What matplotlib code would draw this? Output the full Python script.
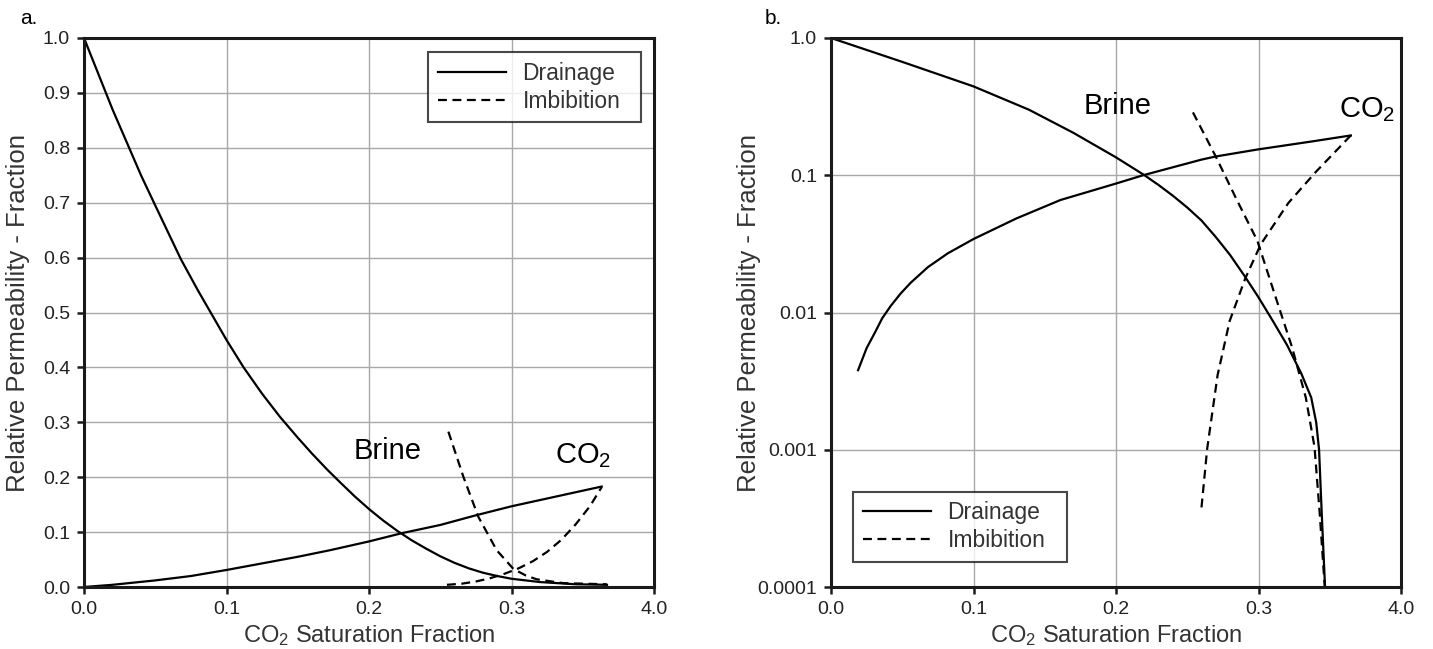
import matplotlib
matplotlib.use("Agg")
import matplotlib.pyplot as plt
from matplotlib.ticker import FixedLocator, NullLocator

plt.rcParams['font.family'] = ['Liberation Sans', 'DejaVu Sans']
plt.rcParams['mathtext.fontset'] = 'custom'
plt.rcParams['mathtext.rm'] = 'Liberation Sans'
plt.rcParams['mathtext.it'] = 'Liberation Sans'
plt.rcParams['mathtext.bf'] = 'Liberation Sans'
TICK_FS = 14
plt.rcParams['xtick.labelsize'] = TICK_FS
plt.rcParams['ytick.labelsize'] = TICK_FS

# ---------------- data: panel a (linear) ----------------
a_brine_dr_s = [0.0, 0.01, 0.02, 0.03, 0.04, 0.05, 0.068, 0.08, 0.1, 0.112, 0.125, 0.1375,
                0.15, 0.16, 0.171, 0.18, 0.19, 0.2, 0.21, 0.22, 0.23, 0.24, 0.25, 0.26, 0.27,
                0.28, 0.29, 0.3, 0.32, 0.345, 0.367]
a_brine_dr_kr = [1.0, 0.935, 0.87, 0.81, 0.75, 0.695, 0.597, 0.54, 0.45, 0.40, 0.352, 0.31,
                 0.272, 0.243, 0.213, 0.19, 0.165, 0.142, 0.121, 0.102, 0.085, 0.07, 0.056,
                 0.044, 0.034, 0.026, 0.02, 0.015, 0.009, 0.005, 0.004]
a_co2_dr_s = [0.0, 0.02, 0.05, 0.075, 0.1, 0.15, 0.1726, 0.2, 0.223, 0.25, 0.2756, 0.3, 0.3633]
a_co2_dr_kr = [0.0, 0.004, 0.012, 0.02, 0.031, 0.055, 0.067, 0.083, 0.098, 0.113, 0.131, 0.147, 0.183]
a_co2_im_s = [0.2547, 0.265, 0.275, 0.285, 0.295, 0.305, 0.315, 0.325, 0.335, 0.345, 0.355, 0.3633]
a_co2_im_kr = [0.004, 0.006, 0.010, 0.016, 0.024, 0.034, 0.047, 0.064, 0.086, 0.114, 0.147, 0.182]
a_brine_im_s = [0.2557, 0.2662, 0.2767, 0.2896, 0.3013, 0.31, 0.3177, 0.3364, 0.3668]
a_brine_im_kr = [0.283, 0.201, 0.128, 0.067, 0.033, 0.021, 0.014, 0.007, 0.005]

# ---------------- data: panel b (log) ----------------
b_brine_dr_s = [0.0, 0.05, 0.1, 0.139, 0.17, 0.2, 0.22, 0.23, 0.24, 0.25, 0.26, 0.27, 0.28,
                0.29, 0.30, 0.31, 0.32, 0.33, 0.337, 0.3405, 0.3425, 0.3445, 0.3467]
b_brine_dr_kr = [1.0, 0.67, 0.444, 0.30, 0.204, 0.135, 0.10, 0.0847, 0.0708, 0.0582, 0.0468,
                 0.0355, 0.0263, 0.0186, 0.0129, 0.0087, 0.0058, 0.0036, 0.0024, 0.00158,
                 0.001, 0.00032, 0.0001]
b_co2_dr_s = [0.019, 0.025, 0.031, 0.036, 0.042, 0.049, 0.056, 0.068, 0.082, 0.1, 0.13, 0.161,
              0.2, 0.219, 0.26, 0.27, 0.2992, 0.337, 0.3648]
b_co2_dr_kr = [0.0038, 0.0055, 0.0072, 0.0091, 0.0112, 0.0138, 0.0165, 0.0214, 0.027, 0.0343,
               0.0484, 0.066, 0.087, 0.1, 0.13, 0.137, 0.154, 0.176, 0.195]
b_co2_im_s = [0.260, 0.264, 0.2713, 0.2798, 0.2907, 0.3016, 0.321, 0.3405, 0.3648]
b_co2_im_kr = [0.00038, 0.00102, 0.0035, 0.0087, 0.0177, 0.0314, 0.0629, 0.1065, 0.195]
b_brine_im_s = [0.254, 0.270, 0.2846, 0.2992, 0.3126, 0.3235, 0.3332, 0.3393, 0.3429, 0.3465]
b_brine_im_kr = [0.287, 0.137, 0.0667, 0.0333, 0.0124, 0.0056, 0.0024, 0.00105, 0.00035, 0.0001]

x_ticks = [0.0, 0.1, 0.2, 0.3, 0.4]
x_ticklabels = ["0.0", "0.1", "0.2", "0.3", "4.0"]
a_y_ticks = [0.0, 0.1, 0.2, 0.3, 0.4, 0.5, 0.6, 0.7, 0.8, 0.9, 1.0]
a_y_ticklabels = ["0.0", "0.1", "0.2", "0.3", "0.4", "0.5", "0.6", "0.7", "0.8", "0.9", "1.0"]
b_y_ticks = [0.0001, 0.001, 0.01, 0.1, 1.0]
b_y_ticklabels = ["0.0001", "0.001", "0.01", "0.1", "1.0"]

legend_labels = ["Drainage", "Imbibition"]
xlabel = r"CO$_2$ Saturation Fraction"
ylabel = "Relative Permeability - Fraction"

W, H = 1433, 649
fig = plt.figure(figsize=(W / 100, H / 100), dpi=100)

TXT = '#222222'
LW = 1.6
DASH = (4, 2.5)
XLAB_FS = 17
YLAB_FS = 18.5
LEG_FS = 16.5
ANN_FS = 21


def style(ax, ylab_x):
    for sp in ax.spines.values():
        sp.set_linewidth(2.2)
        sp.set_color('#1a1a1a')
    ax.grid(True, color='#a8a8a8', linewidth=1.0)
    ax.set_axisbelow(True)
    ax.xaxis.set_major_locator(FixedLocator(x_ticks))
    ax.set_xticklabels(x_ticklabels)
    ax.set_xlim(0, 0.4)
    ax.tick_params(direction='out', length=5, width=1.8, labelsize=TICK_FS,
                   labelcolor=TXT, pad=5, color='#1a1a1a')
    ax.set_xlabel(xlabel, fontsize=XLAB_FS, color='#333333')
    ax.set_ylabel(ylabel, fontsize=YLAB_FS, color='#333333')
    ax.xaxis.set_label_coords(0.5, -0.066)
    ax.yaxis.set_label_coords(ylab_x, 0.5)


def make_legend(ax, handles, bbox, loc):
    leg = ax.legend(handles, legend_labels, loc=loc, bbox_to_anchor=bbox, mode='expand',
                    borderaxespad=0, fontsize=LEG_FS, frameon=True, fancybox=False,
                    edgecolor='#1a1a1a', handlelength=3.0, handletextpad=0.7,
                    labelspacing=0.22, borderpad=0.42)
    leg.get_frame().set_linewidth(1.5)
    for t in leg.get_texts():
        t.set_color('#333333')
    return leg


# panel a
axa = fig.add_axes([84 / W, 1 - 587 / H, 570 / W, 549 / H])
la, = axa.plot(a_brine_dr_s, a_brine_dr_kr, color='black', lw=LW)
axa.plot(a_co2_dr_s, a_co2_dr_kr, color='black', lw=LW)
lb, = axa.plot(a_co2_im_s, a_co2_im_kr, color='black', lw=LW, dashes=DASH)
axa.plot(a_brine_im_s, a_brine_im_kr, color='black', lw=LW, dashes=DASH)
axa.set_ylim(0, 1.0)
axa.yaxis.set_major_locator(FixedLocator(a_y_ticks))
axa.set_yticklabels(a_y_ticklabels)
style(axa, -0.095)
axa.text(0.213, 0.248, "Brine", fontsize=ANN_FS, ha='center', va='center', color='black')
axa.text(0.35, 0.24, r"CO$_2$", fontsize=ANN_FS, ha='center', va='center', color='black')
make_legend(axa, [la, lb], (0.6035, 0.8452, 0.3737, 0.1293), 'upper right')
fig.text(20 / W, 1 - 18 / H, "a.", fontsize=15, ha='left', va='center', color='black')

# panel b
axb = fig.add_axes([831 / W, 1 - 587 / H, 570 / W, 549 / H])
lc, = axb.plot(b_brine_dr_s, b_brine_dr_kr, color='black', lw=LW)
axb.plot(b_co2_dr_s, b_co2_dr_kr, color='black', lw=LW)
ld, = axb.plot(b_co2_im_s, b_co2_im_kr, color='black', lw=LW, dashes=DASH)
axb.plot(b_brine_im_s, b_brine_im_kr, color='black', lw=LW, dashes=DASH)
axb.set_yscale('log')
axb.set_ylim(0.0001, 1.0)
axb.yaxis.set_major_locator(FixedLocator(b_y_ticks))
axb.yaxis.set_minor_locator(NullLocator())
axb.set_yticklabels(b_y_ticklabels)
style(axb, -0.122)
axb.text(0.2014, 0.32, "Brine", fontsize=ANN_FS, ha='center', va='center', color='black')
axb.text(0.376, 0.30, r"CO$_2$", fontsize=ANN_FS, ha='center', va='center', color='black')
make_legend(axb, [lc, ld], (0.0386, 0.0455, 0.3754, 0.1275), 'lower left')
fig.text(765 / W, 1 - 18 / H, "b.", fontsize=15, ha='left', va='center', color='black')

fig.savefig("out.png", dpi=100)
